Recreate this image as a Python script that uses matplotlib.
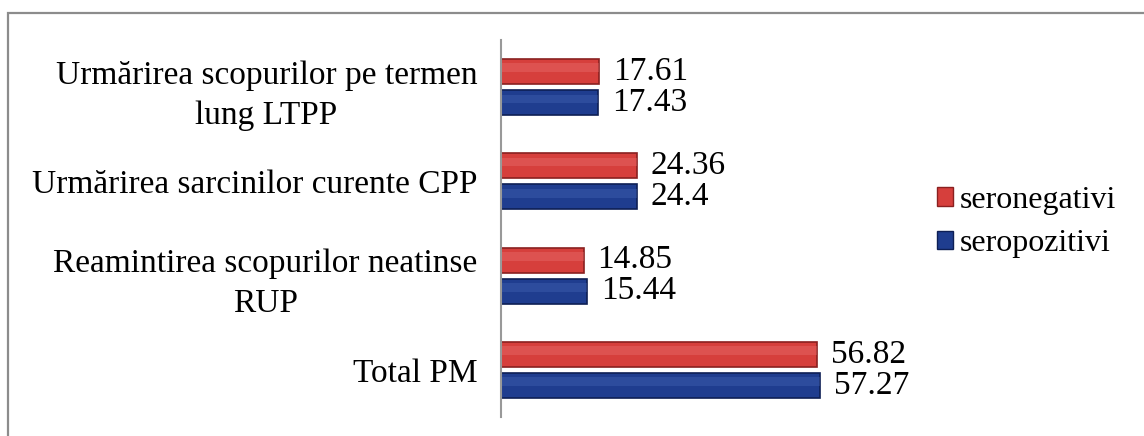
import matplotlib
matplotlib.use('Agg')
import matplotlib.pyplot as plt
from matplotlib.patches import Rectangle, Patch
import numpy as np

categories = ['Urmărirea scopurilor pe termen\nlung LTPP',
              'Urmărirea sarcinilor curente CPP',
              'Reamintirea scopurilor neatinse\nRUP',
              'Total PM']
seronegativi = [17.61, 24.36, 14.85, 56.82]
seropozitivi = [17.43, 24.4, 15.44, 57.27]
value_labels_neg = ['17.61', '24.36', '14.85', '56.82']
value_labels_poz = ['17.43', '24.4', '15.44', '57.27']

plt.rcParams['font.family'] = ['Liberation Serif', 'DejaVu Serif']
FS = 24

W, H = 1144, 436
fig = plt.figure(figsize=(W / 100, H / 100), dpi=100)

# outer chart frame (cut off at right/bottom)
fig.patches.append(Rectangle((8 / W, -0.1), 1.2, 1 - 13 / H + 0.1,
                             transform=fig.transFigure, fill=False,
                             edgecolor='#8c8c8c', linewidth=1.6))

ax = fig.add_axes([501 / W, 1 - 417 / H, 420 / W, 377 / H])

y = np.arange(len(categories))[::-1]
h = 0.265
off = 0.165
red, red_edge = '#D63F3C', '#8A2020'
blue, blue_edge = '#1F3D8F', '#0E1F55'

ax.barh(y + off, seronegativi, height=h, color=red, edgecolor=red_edge, linewidth=1.2)
ax.barh(y - off, seropozitivi, height=h, color=blue, edgecolor=blue_edge, linewidth=1.2)
# soft highlight on upper part of bars
ax.barh(y + off + h * 0.15, seronegativi, height=h * 0.35, color='#F08080', linewidth=0, alpha=0.3)
ax.barh(y - off + h * 0.15, seropozitivi, height=h * 0.35, color='#5070C0', linewidth=0, alpha=0.3)

for yi, v, s in zip(y, seronegativi, value_labels_neg):
    ax.annotate(s, (v, yi + off), xytext=(10, 0), textcoords='offset points',
                va='center', ha='left', fontsize=FS)
for yi, v, s in zip(y, seropozitivi, value_labels_poz):
    ax.annotate(s, (v, yi - off), xytext=(10, 0), textcoords='offset points',
                va='center', ha='left', fontsize=FS)

ax.set_xlim(0, 420 / 5.57)
ax.set_ylim(-0.5, 3.5)
ax.set_yticks(y)
ax.set_yticklabels(categories, fontsize=FS, multialignment='center', linespacing=1.4)
ax.tick_params(axis='y', length=0, pad=17)
ax.set_xticks([])
for side in ['top', 'right', 'bottom']:
    ax.spines[side].set_visible(False)
ax.spines['left'].set_color('#999999')
ax.spines['left'].set_linewidth(1.5)
ax.patch.set_alpha(0)

handles = [Patch(facecolor=red, edgecolor=red_edge, label='seronegativi'),
           Patch(facecolor=blue, edgecolor=blue_edge, label='seropozitivi')]
fig.legend(handles=handles, loc='center left', bbox_to_anchor=(924 / W, 1 - 222 / H),
           frameon=False, fontsize=23, handlelength=0.5, handleheight=0.5,
           handletextpad=0.22, labelspacing=0.45, borderaxespad=0)

fig.savefig('out.png', dpi=100)
